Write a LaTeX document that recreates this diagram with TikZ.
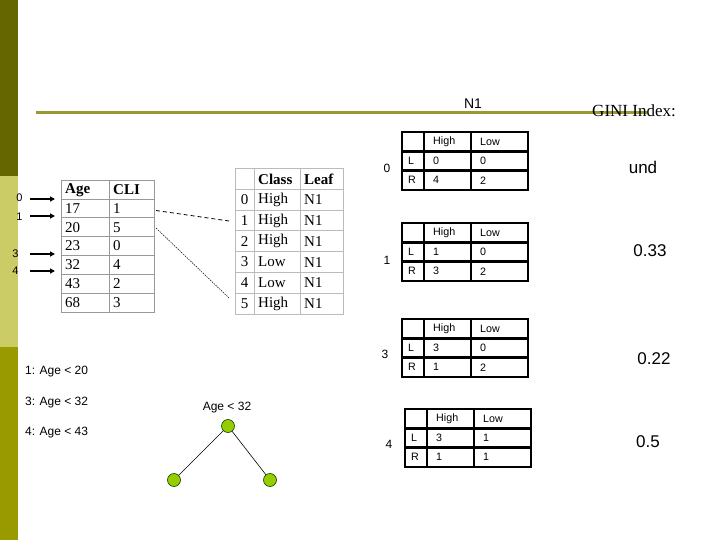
\documentclass[tikz,border=0pt]{standalone}
\usepackage{fontspec}
\setmainfont{Liberation Serif}
\setsansfont{Liberation Sans}
\usetikzlibrary{arrows.meta}
\definecolor{bardark}{HTML}{666600}
\definecolor{barlight}{HTML}{CCCC66}
\definecolor{barmid}{HTML}{999900}
\definecolor{ruleolive}{HTML}{999933}
\definecolor{nodegreen}{HTML}{99CC00}
\definecolor{gridgray}{HTML}{999999}
\definecolor{gridlight}{HTML}{BBBBBB}

% count table: #1 prefix, #2 x, #3 top y, #4 LH, #5 LL, #6 RH, #7 RL
\newcommand\ctab[7]{%
\begin{scope}[shift={(#2,-#3)}]
\draw[ctline] (0,0) rectangle (126,-58);
\draw[ctline] (0,-19.3) -- (126,-19.3) (0,-38.7) -- (126,-38.7)
  (22,0) -- (22,-58) (69,0) -- (69,-58);
\node[cttext] (#1h) at (31,-9.7) {High};
\node[cttext] (#1l) at (78,-9.7) {Low};
\node[cttext] (#1L) at (6,-29) {L};
\node[cttext] (#1R) at (6,-48.3) {R};
\node[cttext] (#1a) at (31,-29) {#4};
\node[cttext] (#1b) at (78,-29) {#5};
\node[cttext] (#1c) at (31,-48.3) {#6};
\node[cttext] (#1d) at (78,-48.3) {#7};
\end{scope}}

\begin{document}
\begin{tikzpicture}[x=1pt,y=1pt,
  ctline/.style={line width=2.6pt,black},
  cttext/.style={anchor=west,inner sep=0pt,font=\sffamily\fontsize{10.7}{12}\selectfont},
  tabtext/.style={anchor=west,inner sep=0pt,font=\fontsize{15}{15}\selectfont},
  tabhead/.style={anchor=west,inner sep=0pt,font=\bfseries\fontsize{15}{15}\selectfont},
  idxtext/.style={inner sep=0pt,font=\fontsize{15}{15}\selectfont},
  sidelabel/.style={inner sep=0pt,font=\sffamily\fontsize{11}{13}\selectfont},
  rowlabel/.style={inner sep=0pt,font=\sffamily\fontsize{12}{14}\selectfont},
  gini/.style={inner sep=0pt,font=\sffamily\fontsize{17}{19}\selectfont},
  splittext/.style={anchor=west,inner sep=0pt,font=\sffamily\fontsize{12}{14}\selectfont},
  rowarrow/.style={line width=1.6pt,-{Triangle[length=5pt,width=5pt]}},
  treenode/.style={circle,draw=black!70!green,line width=0.6pt,fill=nodegreen,minimum size=13pt,inner sep=0pt},
  treeedge/.style={line width=0.6pt,black}]
\useasboundingbox (0,0) rectangle (720,-540);
\fill[white] (0,0) rectangle (720,-540);
% left bar
\fill[bardark] (0,0) rectangle (18,-176);
\fill[barlight] (0,-176) rectangle (18,-347);
\fill[barmid] (0,-347) rectangle (18,-540);
% title rule
\draw[ruleolive,line width=3pt] (36,-113) -- (647,-113);
\node[inner sep=0pt,font=\sffamily\fontsize{14}{16}\selectfont] (n1) at (473,-104) {N1};
\node[inner sep=0pt,font=\fontsize{17}{19}\selectfont] (gini) at (634,-111) {GINI Index:};

% Age / CLI table
\draw[gridgray,line width=0.9pt] (61.5,-180) rectangle (154,-312);
\draw[gridgray,line width=0.9pt] (109,-180) -- (109,-312);
\foreach \k in {0,...,5}{
  \draw[gridgray,line width=0.9pt] (61.5,{-199-18.83*\k}) -- (154,{-199-18.83*\k});
}
\node[tabhead] (agehd) at (65,-190) {Age};
\node[tabhead] (clihd) at (113,-190) {CLI};
\foreach \a/\c [count=\i from 0] in {17/1,20/5,23/0,32/4,43/2,68/3}{
  \node[tabtext] (ag\i) at (65,{-199-18.83*(\i+0.5)}) {\a};
  \node[tabtext] (cl\i) at (113,{-199-18.83*(\i+0.5)}) {\c};
}

% Class / Leaf table
\draw[gridlight,line width=0.9pt] (235,-168.5) rectangle (343,-314);
\draw[gridlight,line width=0.9pt] (254,-168.5) -- (254,-314) (300,-168.5) -- (300,-314);
\foreach \k in {1,...,6}{
  \draw[gridlight,line width=0.9pt] (235,{-168.5-20.8*\k}) -- (343,{-168.5-20.8*\k});
}
\node[tabhead] (classhd) at (258,-179) {Class};
\node[tabhead] (leafhd) at (304,-179) {Leaf};
\foreach \c [count=\i from 0] in {High,High,High,Low,Low,High}{
  \node[idxtext] (ix\i) at (244.5,{-168.5-20.8*(\i+1.5)}) {\i};
  \node[tabtext] (cs\i) at (258,{-168.5-20.8*(\i+1.5)}) {\c};
  \node[tabtext] (lf\i) at (304,{-168.5-20.8*(\i+1.5)}) {N1};
}

% dashed / dotted connectors between tables
\coordinate (dsa) at (156,-210.5);
\coordinate (dsb) at (229,-221);
\coordinate (dta) at (156,-228);
\coordinate (dtb) at (229,-298);
\draw[black,line width=0.8pt,dash pattern=on 4pt off 3pt] (dsa) -- (dsb);
\draw[black,line width=0.5pt,dash pattern=on 1.5pt off 1pt] (dta) -- (dtb);

% side labels and arrows
\node[sidelabel] (s0) at (19.5,-198) {0};
\node[sidelabel] (s1) at (19.5,-217) {1};
\node[sidelabel] (s3) at (15.5,-254) {3};
\node[sidelabel] (s4) at (15.5,-271) {4};
\coordinate (a0s) at (30,-199); \coordinate (a0e) at (55,-199);
\coordinate (a1s) at (30,-216); \coordinate (a1e) at (55,-216);
\coordinate (a3s) at (30,-254); \coordinate (a3e) at (55,-254);
\coordinate (a4s) at (30,-271); \coordinate (a4e) at (55,-271);
\draw[rowarrow] (a0s) -- (a0e);
\draw[rowarrow] (a1s) -- (a1e);
\draw[rowarrow] (a3s) -- (a3e);
\draw[rowarrow] (a4s) -- (a4e);

% count tables
\ctab{ta}{402}{132}{0}{0}{4}{2}
\ctab{tb}{402}{223}{1}{0}{3}{2}
\ctab{tc}{402}{319}{3}{0}{1}{2}
\ctab{td}{405}{409}{3}{1}{1}{1}
\node[rowlabel] (r0) at (387,-168) {0};
\node[rowlabel] (r1) at (387,-260) {1};
\node[rowlabel] (r3) at (385,-354) {3};
\node[rowlabel] (r4) at (389,-444) {4};

% gini values
\node[gini] (g0) at (643,-167) {und};
\node[gini] (g1) at (650,-251) {0.33};
\node[gini] (g3) at (654,-359) {0.22};
\node[gini] (g4) at (648,-442) {0.5};

% split list
\node[splittext] (sp1) at (25,-372) {1: Age < 20};
\node[splittext] (sp3) at (25,-403) {3: Age < 32};
\node[splittext] (sp4) at (25,-433) {4: Age < 43};

% tree
\node[inner sep=0pt,font=\sffamily\fontsize{12}{14}\selectfont] (treelabel) at (227,-408) {Age < 32};
\node[treenode] (root) at (228,-426) {};
\node[treenode] (lc) at (174,-480) {};
\node[treenode] (rc) at (270,-480) {};
\draw[treeedge] (root) -- (lc);
\draw[treeedge] (root) -- (rc);
\end{tikzpicture}
\end{document}
